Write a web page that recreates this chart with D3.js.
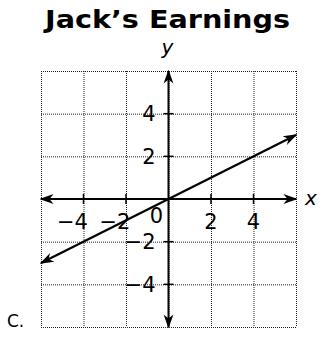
<!DOCTYPE html>
<html>
<head>
<meta charset="utf-8">
<script src="https://cdn.jsdelivr.net/npm/d3@7"></script>
<style>
  html, body { margin: 0; padding: 0; background: #fff; }
  svg { display: block; }
</style>
</head>
<body>
<script>
// Jack's Earnings: line y = x/2 on a coordinate grid
const title = "Jack\u2019s Earnings";
const gridValues = [-6, -4, -2, 0, 2, 4, 6];
const xTickLabels = [-4, -2, 2, 4];
const yTickLabels = [4, 2, -2, -4];
const lineX = [-6, 6];
const lineY = [-3, 3];
const optionLabel = "C.";

const W = 320, H = 339;
const FONT = "Verdana, 'DejaVu Sans', sans-serif";
const svg = d3.select("body").append("svg").attr("width", W).attr("height", H);

const x = d3.scaleLinear().domain([-6, 6]).range([41, 296]);
const y = d3.scaleLinear().domain([-6, 6]).range([327, 71]);

const defs = svg.append("defs");
defs.append("marker")
  .attr("id", "arrow")
  .attr("viewBox", "0 0 10 10")
  .attr("refX", 9).attr("refY", 5)
  .attr("markerWidth", 14).attr("markerHeight", 14)
  .attr("markerUnits", "userSpaceOnUse")
  .attr("orient", "auto-start-reverse")
  .append("path")
  .attr("d", "M0,1.5 L10,5 L0,8.5 L3,5 Z")
  .attr("fill", "#000");

// dotted grid
const grid = svg.append("g")
  .attr("stroke", "#222")
  .attr("stroke-width", 1)
  .attr("stroke-dasharray", "1,1");
grid.selectAll("line.v").data(gridValues).join("line")
  .attr("class", "v")
  .attr("x1", d => x(d) + 0.5).attr("x2", d => x(d) + 0.5)
  .attr("y1", y(6)).attr("y2", y(-6));
grid.selectAll("line.h").data(gridValues).join("line")
  .attr("class", "h")
  .attr("y1", d => y(d) + 0.5).attr("y2", d => y(d) + 0.5)
  .attr("x1", x(-6)).attr("x2", x(6));

// axes with arrows at both ends
const axes = svg.append("g").attr("stroke", "#000").attr("stroke-width", 2);
axes.append("line")
  .attr("x1", x(-6)).attr("x2", x(6))
  .attr("y1", y(0)).attr("y2", y(0))
  .attr("marker-start", "url(#arrow)").attr("marker-end", "url(#arrow)");
axes.append("line")
  .attr("x1", x(0)).attr("x2", x(0))
  .attr("y1", y(6)).attr("y2", y(-6))
  .attr("marker-start", "url(#arrow)").attr("marker-end", "url(#arrow)");

// tick marks on the axes
const ticks = svg.append("g").attr("stroke", "#000").attr("stroke-width", 1.5);
ticks.selectAll("line.xt").data(xTickLabels).join("line")
  .attr("class", "xt")
  .attr("x1", d => x(d)).attr("x2", d => x(d))
  .attr("y1", y(0) - 5).attr("y2", y(0) + 5);
ticks.selectAll("line.yt").data(yTickLabels).join("line")
  .attr("class", "yt")
  .attr("y1", d => y(d)).attr("y2", d => y(d))
  .attr("x1", x(0) - 5).attr("x2", x(0) + 5);

// tick labels
const fmt = d => d < 0 ? "\u2212" + Math.abs(d) : String(d);
const labels = svg.append("g")
  .attr("font-family", FONT)
  .attr("font-size", 21)
  .attr("fill", "#000");
labels.selectAll("text.xl").data(xTickLabels).join("text")
  .attr("class", "xl")
  .attr("x", d => x(d) + (d < 0 ? -11 : 0))
  .attr("y", y(0) + 30)
  .attr("text-anchor", "middle")
  .text(fmt);
labels.append("text")
  .attr("x", x(0) - 12).attr("y", y(0) + 24)
  .attr("text-anchor", "middle")
  .text("0");
labels.selectAll("text.yl").data(yTickLabels).join("text")
  .attr("class", "yl")
  .attr("x", x(0) - 13)
  .attr("y", d => y(d) + 7.5)
  .attr("text-anchor", "end")
  .text(fmt);

// the line y = x / 2
svg.append("line")
  .attr("x1", x(lineX[0])).attr("y1", y(lineY[0]))
  .attr("x2", x(lineX[1])).attr("y2", y(lineY[1]))
  .attr("stroke", "#000").attr("stroke-width", 2.2)
  .attr("marker-start", "url(#arrow)").attr("marker-end", "url(#arrow)");

// axis names
svg.append("text")
  .attr("x", x(0) - 1).attr("y", 54)
  .attr("text-anchor", "middle")
  .attr("font-family", FONT)
  .attr("font-style", "italic")
  .attr("font-size", 20)
  .text("y");
svg.append("text")
  .attr("x", x(6) + 9).attr("y", y(0) + 6)
  .attr("font-family", FONT)
  .attr("font-style", "italic")
  .attr("font-size", 20)
  .text("x");

// title
svg.append("text")
  .attr("x", 167.5).attr("y", 28)
  .attr("text-anchor", "middle")
  .attr("font-family", FONT)
  .attr("font-weight", "bold")
  .attr("font-size", 24)
  .attr("textLength", 245)
  .attr("lengthAdjust", "spacingAndGlyphs")
  .text(title);

// answer option label
svg.append("text")
  .attr("x", 7).attr("y", 327)
  .attr("font-family", FONT)
  .attr("font-size", 17)
  .text(optionLabel);
</script>
</body>
</html>
